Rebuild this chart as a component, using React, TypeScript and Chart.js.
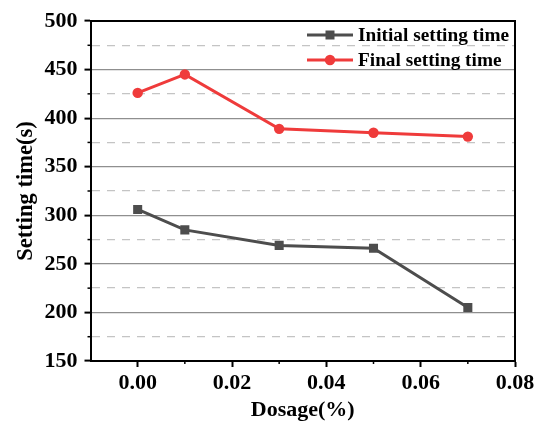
import React, { useEffect, useRef } from "react";
import { Chart, registerables } from "chart.js";

Chart.register(...registerables);

// ---- data ----
const dosage = [0, 0.01, 0.03, 0.05, 0.07];
const initialSetting = [306, 285, 269, 266, 205];
const finalSetting = [426, 445, 389, 385, 381];
const seriesNames = ["Initial setting time", "Final setting time"];
const seriesColors = ["#4d4d4d", "#ef3b3b"];
const seriesPointStyles = ["rect", "circle"];
const xTitle = "Dosage(%)";
const yTitle = "Setting time(s)";
const xRange = [-0.01, 0.08];
const yRange = [150, 500];

const FONT = "'Liberation Serif', 'Times New Roman', serif";

const isMajorY = (v: number) => Math.round(v) % 50 === 0;
const isMajorX = (v: number) => Math.round(v * 100) % 2 === 0;

const framePlugin = {
  id: "frame",
  afterDraw(chart: any) {
    const { ctx, chartArea } = chart;
    const { left, right, top, bottom } = chartArea;
    ctx.save();
    ctx.strokeStyle = "#000";
    ctx.lineWidth = 2;
    ctx.beginPath();
    ctx.moveTo(left, top);
    ctx.lineTo(right, top);
    ctx.lineTo(right, bottom);
    ctx.stroke();
    const ys = chart.scales.y;
    const xs = chart.scales.x;
    ctx.lineWidth = 1.5;
    ys.ticks.forEach((t: any) => {
      if (!isMajorY(t.value)) {
        const py = ys.getPixelForValue(t.value);
        ctx.beginPath();
        ctx.moveTo(left - 3, py);
        ctx.lineTo(left, py);
        ctx.stroke();
      }
    });
    xs.ticks.forEach((t: any) => {
      if (!isMajorX(t.value) && t.value > xRange[0] + 1e-9) {
        const px = xs.getPixelForValue(t.value);
        ctx.beginPath();
        ctx.moveTo(px, bottom);
        ctx.lineTo(px, bottom + 3);
        ctx.stroke();
      }
    });
    ctx.restore();
  },
};

const legendPlugin = {
  id: "insideLegend",
  afterDatasetsDraw(chart: any) {
    const { ctx, chartArea } = chart;
    ctx.save();
    chart.data.datasets.forEach((ds: any, i: number) => {
      const y = chartArea.top + 14 + i * 25;
      const x0 = chartArea.right - 208;
      const x1 = chartArea.right - 162;
      ctx.strokeStyle = ds.borderColor;
      ctx.lineWidth = 3;
      ctx.beginPath();
      ctx.moveTo(x0, y);
      ctx.lineTo(x1, y);
      ctx.stroke();
      const cx = (x0 + x1) / 2;
      ctx.fillStyle = ds.borderColor;
      ctx.beginPath();
      if (ds.pointStyle === "rect") {
        ctx.rect(cx - 4.5, y - 4.5, 9, 9);
      } else {
        ctx.arc(cx, y, 5.2, 0, Math.PI * 2);
      }
      ctx.fill();
      ctx.fillStyle = "#000";
      ctx.font = `bold 19.3px ${FONT}`;
      ctx.textAlign = "left";
      ctx.textBaseline = "middle";
      ctx.fillText(ds.label, chartArea.right - 157, y + 1);
    });
    ctx.restore();
  },
};

export default function App() {
  const canvasRef = useRef<HTMLCanvasElement | null>(null);

  useEffect(() => {
    if (!canvasRef.current) return;
    const makeData = (vals: number[]) => dosage.map((x, i) => ({ x, y: vals[i] }));
    const chart = new Chart(canvasRef.current, {
      type: "line",
      data: {
        datasets: [initialSetting, finalSetting].map((vals, i) => ({
          label: seriesNames[i],
          data: makeData(vals),
          borderColor: seriesColors[i],
          backgroundColor: seriesColors[i],
          borderWidth: 3,
          pointStyle: seriesPointStyles[i] as any,
          pointRadius: i === 0 ? 6.4 : 5.2,
          pointBorderWidth: 0,
          tension: 0,
        })),
      },
      options: {
        animation: false,
        responsive: true,
        maintainAspectRatio: false,
        layout: { padding: { top: 21, right: 34, left: 8, bottom: 0 } },
        plugins: {
          legend: { display: false },
          tooltip: { enabled: false },
        },
        scales: {
          x: {
            type: "linear",
            min: xRange[0],
            max: xRange[1],
            ticks: {
              stepSize: 0.01,
              autoSkip: false,
              maxRotation: 0,
              color: "#000",
              padding: 5,
              font: { family: FONT, size: 22, weight: "bold", lineHeight: 1 },
              callback: (v: any) => (isMajorX(Number(v)) && Number(v) > -1e-9 ? Number(v).toFixed(2) : ""),
            },
            grid: {
              drawOnChartArea: false,
              drawTicks: true,
              tickLength: 6,
              tickWidth: 2,
              tickColor: (ctx: any) =>
                ctx.tick && isMajorX(ctx.tick.value) && ctx.tick.value > -1e-9 ? "#000" : "rgba(0,0,0,0)",
            },
            border: { display: true, color: "#000", width: 2 },
            title: {
              display: true,
              text: xTitle,
              color: "#000",
              padding: { top: 0, bottom: 0 },
              font: { family: FONT, size: 22, weight: "bold", lineHeight: 1 },
            },
          },
          y: {
            type: "linear",
            min: yRange[0],
            max: yRange[1],
            ticks: {
              stepSize: 25,
              autoSkip: false,
              color: "#000",
              padding: 7,
              font: { family: FONT, size: 22, weight: "bold", lineHeight: 1 },
              callback: (v: any) => (isMajorY(Number(v)) ? String(v) : ""),
            },
            grid: {
              drawOnChartArea: true,
              drawTicks: true,
              tickLength: 6,
              tickWidth: 2,
              tickColor: (ctx: any) => (ctx.tick && isMajorY(ctx.tick.value) ? "#000" : "rgba(0,0,0,0)"),
              color: (ctx: any) => (ctx.tick && isMajorY(ctx.tick.value) ? "#8f8f8f" : "#c4c4c4"),
              lineWidth: (ctx: any) => (ctx.tick && isMajorY(ctx.tick.value) ? 1.2 : 1.3),
            },
            border: {
              display: true,
              color: "#000",
              width: 2,
              dash: (ctx: any) =>
                ctx.type === "tick" && ctx.tick && !isMajorY(ctx.tick.value) ? [8, 7] : [],
            } as any,
            title: {
              display: true,
              text: yTitle,
              color: "#000",
              padding: { top: 7, bottom: 0 },
              font: { family: FONT, size: 22.5, weight: "bold", lineHeight: 1 },
            },
          },
        },
      },
      plugins: [framePlugin, legendPlugin],
    });
    return () => chart.destroy();
  }, []);

  return (
    <div style={{ position: "fixed", left: 0, top: 0, width: 549, height: 421, background: "#fff" }}>
      <canvas ref={canvasRef} />
    </div>
  );
}
